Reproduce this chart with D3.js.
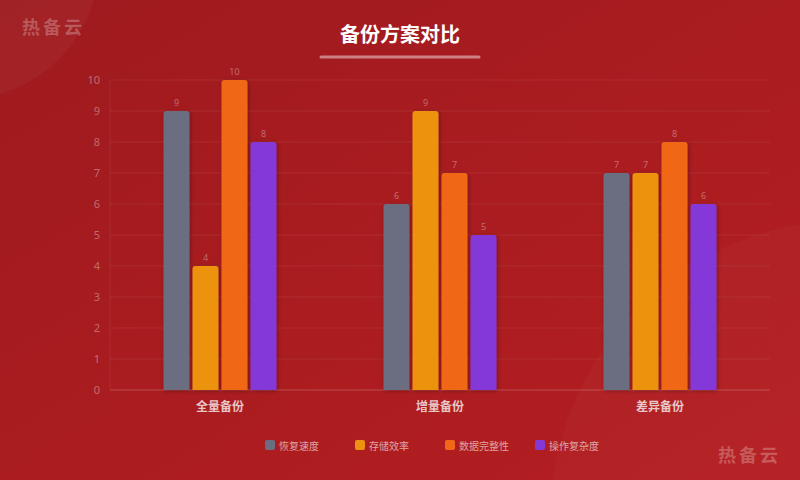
<!DOCTYPE html>
<html><head><meta charset="utf-8">
<script src="https://cdn.jsdelivr.net/npm/d3@7"></script>
<style>body{margin:0;background:#a51b1f;}svg{display:block;font-family:"Noto Sans CJK SC","Noto Sans",sans-serif;}</style>
</head><body>
<svg id="c" width="800" height="480"></svg>
<script>
const categories = ["全量备份","增量备份","差异备份"];
const seriesNames = ["恢复速度","存储效率","数据完整性","操作复杂度"];
const seriesColors = ["#6b6e80","#ec9210","#f06818","#8438d8"];
const values = [
  [9,6,7],   // 恢复速度
  [4,9,7],   // 存储效率
  [10,7,8],  // 数据完整性
  [8,5,6]    // 操作复杂度
];
const yTicks = [0,1,2,3,4,5,6,7,8,9,10];

(function(){
const svg = d3.select("#c");
const defs = svg.append("defs");
const bg = defs.append("linearGradient").attr("id","bg").attr("x1","0").attr("y1","0").attr("x2","1").attr("y2","1");
bg.append("stop").attr("offset","0").attr("stop-color","#9e1a1e");
bg.append("stop").attr("offset","1").attr("stop-color","#b51e21");
const sh = defs.append("filter").attr("id","sh").attr("x","-30%").attr("y","-10%").attr("width","160%").attr("height","130%");
sh.append("feDropShadow").attr("dx",1).attr("dy",1).attr("stdDeviation",2).attr("flood-color","#000").attr("flood-opacity",0.3);

svg.append("rect").attr("width",800).attr("height",480).attr("fill","url(#bg)");
svg.append("circle").attr("cx",-40).attr("cy",-40).attr("r",140).attr("fill","rgba(255,255,255,0.04)");
svg.append("circle").attr("cx",850).attr("cy",520).attr("r",300).attr("fill","rgba(255,255,255,0.025)");

svg.append("text").attr("x",22).attr("y",34).text("热备云").attr("font-size",18).attr("font-weight","bold")
  .attr("letter-spacing",3).attr("fill","rgba(255,255,255,0.25)");
svg.append("text").attr("x",718).attr("y",462).text("热备云").attr("font-size",18).attr("font-weight","bold")
  .attr("letter-spacing",3).attr("fill","rgba(255,255,255,0.25)");

svg.append("text").attr("x",400).attr("y",42).attr("text-anchor","middle").text("备份方案对比")
  .attr("font-size",20).attr("font-weight","bold").attr("fill","#fff");
svg.append("line").attr("x1",321).attr("x2",479).attr("y1",57).attr("y2",57)
  .attr("stroke","rgba(255,255,255,0.45)").attr("stroke-width",3).attr("stroke-linecap","round");

const pl=110, pr=770, pt=80, pb=390;
const y = d3.scaleLinear().domain([0,10]).range([pb,pt]);
const x0 = d3.scaleBand().domain(categories).range([pl,pr]);
const groupW = 113;
const x1 = d3.scaleBand().domain(d3.range(seriesNames.length)).range([0,groupW]).paddingInner(3/29);
const groupOffset = (x0.bandwidth()-groupW)/2;

svg.append("g").selectAll("line").data(yTicks).join("line")
  .attr("x1",pl).attr("x2",pr).attr("y1",d=>y(d)).attr("y2",d=>y(d))
  .attr("stroke","rgba(255,255,255,0.07)");
svg.append("line").attr("x1",pl).attr("x2",pl).attr("y1",pt).attr("y2",pb).attr("stroke","rgba(255,255,255,0.08)");
svg.append("line").attr("x1",pl).attr("x2",pr).attr("y1",pb).attr("y2",pb).attr("stroke","rgba(255,255,255,0.15)");

const yAxis = svg.append("g").attr("transform",`translate(${pl-10},0)`)
  .call(d3.axisLeft(y).tickValues(yTicks).tickSize(0).tickPadding(0));
yAxis.select(".domain").remove();
yAxis.selectAll("text").attr("font-size",11).attr("fill","rgba(255,255,255,0.35)").attr("font-family","'Noto Sans',sans-serif");

const xAxis = svg.append("g").attr("transform",`translate(0,${pb})`)
  .call(d3.axisBottom(x0).tickSize(0).tickPadding(12));
xAxis.select(".domain").remove();
xAxis.selectAll("text").attr("font-size",12).attr("font-weight","bold").attr("fill","rgba(255,255,255,0.75)").attr("font-family","'Noto Sans CJK SC',sans-serif");

const rr = (xx,yy,w,h,r)=>`M${xx},${yy+h}V${yy+r}Q${xx},${yy} ${xx+r},${yy}H${xx+w-r}Q${xx+w},${yy} ${xx+w},${yy+r}V${yy+h}Z`;
const data=[];
categories.forEach((c,ci)=>seriesNames.forEach((s,si)=>data.push({c,si,v:values[si][ci]})));
const bx = d=>x0(d.c)+groupOffset+x1(d.si);
const bars = svg.append("g");
bars.selectAll("path").data(data).join("path")
  .attr("d",d=>rr(bx(d), y(d.v), x1.bandwidth(), pb-y(d.v), 3))
  .attr("fill",d=>seriesColors[d.si]).attr("filter","url(#sh)");
bars.selectAll("text").data(data).join("text")
  .attr("x",d=>bx(d)+x1.bandwidth()/2).attr("y",d=>y(d.v)-5)
  .attr("text-anchor","middle").text(d=>d.v).attr("font-size",9)
  .attr("fill","rgba(255,255,255,0.35)").attr("font-family","'Noto Sans',sans-serif");

const legX=[265,355,445,535];
const leg = svg.append("g");
seriesNames.forEach((s,i)=>{
  leg.append("rect").attr("x",legX[i]).attr("y",440).attr("width",10).attr("height",10).attr("rx",2).attr("fill",seriesColors[i]);
  leg.append("text").attr("x",legX[i]+14).attr("y",449.5).text(s).attr("font-size",10).attr("fill","rgba(255,255,255,0.6)");
});
})();
</script>
</body></html>
